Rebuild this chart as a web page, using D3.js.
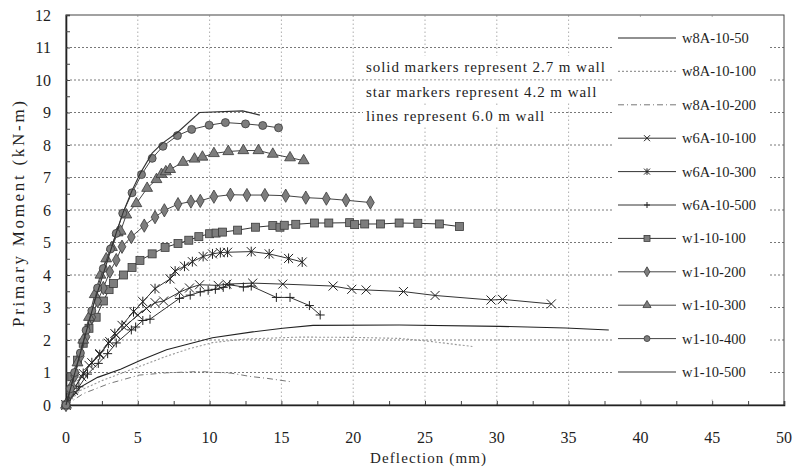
<!DOCTYPE html>
<html>
<head>
<meta charset="utf-8">
<script src="https://cdn.jsdelivr.net/npm/d3@7"></script>
<style>
  body { margin: 0; background: #fff; }
  text { font-family: "Liberation Serif", "DejaVu Serif", serif; fill: #1e1e1e; }
</style>
</head>
<body>
<script>
const w = 794;
const h = 468;

// tick labels
const xTicks = [0, 5, 10, 15, 20, 25, 30, 35, 40, 45, 50];
const yTicks = [0, 1, 2, 3, 4, 5, 6, 7, 8, 9, 10, 11, 12];

// series: [deflection mm, moment kN-m]
const w8A_10_50 = [[0,0],[1,0.55],[2.2,0.85],[3.8,1.1],[5.2,1.38],[7,1.7],[10.2,2.07],[13,2.25],[15.1,2.36],[17.2,2.45],[23.2,2.46],[30.2,2.42],[34.8,2.37],[37.8,2.31]];
const w8A_10_100 = [[0,0],[1,0.45],[2.5,0.75],[4,1.0],[5.5,1.25],[7,1.5],[8.5,1.72],[10.2,1.92],[12.5,2.03],[16.3,2.09],[20,2.08],[23.2,2.05],[25.5,1.95],[28.3,1.8]];
const w8A_10_200 = [[0,0],[1.2,0.35],[3,0.66],[5.1,0.92],[7,0.99],[9.3,1.03],[11.5,0.98],[12.8,0.88],[14,0.82],[15.6,0.72]];
const w6A_10_100 = [[0,0],[0.5,0.45],[1.1,0.87],[1.6,1.22],[2.35,1.58],[3.05,1.95],[3.5,2.15],[4.2,2.45],[5.0,2.77],[5.6,2.97],[6.2,3.15],[6.8,3.2],[7.9,3.47],[8.6,3.6],[9.3,3.7],[10.6,3.68],[11.2,3.72],[13.0,3.75],[15.1,3.72],[18.6,3.66],[19.9,3.56],[20.9,3.54],[23.5,3.49],[25.7,3.37],[29.6,3.23],[30.4,3.25],[33.8,3.11]];
const w6A_10_300 = [[0,0],[0.5,0.46],[1.2,0.97],[1.8,1.3],[2.35,1.55],[2.95,1.9],[3.4,2.2],[3.9,2.45],[4.7,2.87],[5.35,3.18],[6.2,3.58],[7.25,3.88],[7.6,4.12],[8.25,4.27],[8.8,4.41],[9.55,4.57],[10.2,4.65],[10.75,4.69],[11.25,4.7],[12.9,4.72],[14.15,4.65],[15.5,4.51],[16.45,4.4]];
const w6A_10_500 = [[0,0],[0.9,0.56],[1.5,0.95],[2.25,1.28],[2.9,1.58],[3.5,1.91],[4.55,2.31],[4.85,2.4],[5.35,2.6],[5.85,2.64],[7.9,3.28],[8.65,3.38],[9.35,3.48],[9.9,3.53],[10.4,3.56],[10.95,3.62],[11.4,3.7],[12.35,3.63],[12.9,3.66],[14.65,3.31],[15.6,3.31],[16.95,3.06],[17.7,2.77]];
const w1_10_100 = [[0,0],[0.4,0.87],[0.8,1.38],[1.2,1.9],[1.6,2.36],[2.1,2.7],[2.6,3.2],[3.0,3.55],[3.3,3.74],[4.0,4.0],[4.6,4.23],[5.15,4.45],[6.0,4.65],[6.9,4.85],[7.8,4.97],[8.55,5.07],[9.25,5.18],[10.0,5.27],[10.45,5.29],[10.9,5.32],[11.95,5.38],[13.2,5.47],[14.4,5.52],[14.9,5.47],[15.2,5.53],[16.0,5.56],[17.3,5.6],[18.3,5.6],[19.75,5.61],[20.1,5.55],[20.8,5.57],[21.9,5.57],[23.2,5.6],[24.5,5.59],[26.0,5.57],[27.4,5.49]];
const w1_10_200 = [[0,0],[0.3,0.4],[0.6,0.9],[1.0,1.5],[1.4,2.1],[1.8,2.7],[2.2,3.2],[2.6,3.6],[3.05,4.1],[3.5,4.46],[3.9,4.87],[4.55,5.17],[5.45,5.52],[6.2,5.78],[6.85,5.99],[7.8,6.18],[8.7,6.26],[9.35,6.28],[10.3,6.41],[11.45,6.47],[12.6,6.46],[13.85,6.46],[15.3,6.44],[16.7,6.38],[18.13,6.35],[19.5,6.3],[21.2,6.23]];
const w1_10_300 = [[0,0],[0.4,0.6],[0.8,1.3],[1.2,2.0],[1.6,2.7],[2.0,3.4],[2.4,4.0],[2.8,4.5],[3.2,4.85],[3.6,5.3],[3.8,5.35],[4.2,5.85],[4.9,6.2],[5.65,6.67],[6.3,6.94],[6.65,7.1],[6.95,7.18],[7.25,7.25],[8.15,7.47],[8.95,7.57],[9.5,7.63],[10.3,7.74],[11.3,7.8],[12.35,7.83],[13.4,7.83],[14.4,7.72],[15.6,7.61],[16.55,7.52]];
const w1_10_400 = [[0,0],[0.3,0.5],[0.6,1.0],[1.0,1.6],[1.4,2.3],[1.8,2.9],[2.2,3.6],[2.6,4.2],[3.1,4.8],[3.5,5.28],[3.95,5.9],[4.6,6.53],[5.26,7.09],[6.0,7.59],[6.75,7.96],[7.76,8.29],[8.75,8.48],[9.97,8.61],[11.1,8.69],[12.5,8.65],[13.7,8.6],[14.8,8.53]];
const w1_10_500 = [[0,0],[0.5,0.8],[1,1.6],[1.5,2.4],[2,3.2],[2.5,3.9],[3,4.6],[3.5,5.3],[4,5.95],[4.6,6.6],[5.2,7.15],[6,7.75],[6.7,8.05],[7.8,8.4],[9.3,9.0],[12.3,9.05],[13.5,8.92]];

const seriesNames = ["w8A-10-50","w8A-10-100","w8A-10-200","w6A-10-100","w6A-10-300","w6A-10-500","w1-10-100","w1-10-200","w1-10-300","w1-10-400","w1-10-500"];
const seriesData = [w8A_10_50,w8A_10_100,w8A_10_200,w6A_10_100,w6A_10_300,w6A_10_500,w1_10_100,w1_10_200,w1_10_300,w1_10_400,w1_10_500];

const notes = ["solid markers represent 2.7 m wall", "star markers represent 4.2 m wall", "lines represent 6.0 m wall"];

// style per series
const styles = [
  {stroke: "#222", dash: null, width: 1.1, marker: null},
  {stroke: "#999", dash: "2,2", width: 1.1, marker: null},
  {stroke: "#777", dash: "6,3,1,3", width: 1, marker: null},
  {stroke: "#333", dash: null, width: 1, marker: "x"},
  {stroke: "#333", dash: null, width: 1, marker: "star"},
  {stroke: "#333", dash: null, width: 1, marker: "plus"},
  {stroke: "#333", dash: null, width: 1, marker: "square"},
  {stroke: "#444", dash: null, width: 1, marker: "diamond"},
  {stroke: "#444", dash: null, width: 1, marker: "triangle"},
  {stroke: "#444", dash: null, width: 1, marker: "circle"},
  {stroke: "#333", dash: null, width: 1.1, marker: null}
];

const svg = d3.select("body").append("svg")
  .attr("width", w).attr("height", h);

const x = d3.scaleLinear().domain([0, 50]).range([66, 784]);
const y = d3.scaleLinear().domain([0, 12]).range([405, 15]);

// grid
svg.append("g").selectAll("line")
  .data(yTicks.filter(d => d > 0 && d < 12))
  .enter().append("line")
  .attr("x1", x(0)).attr("x2", x(50))
  .attr("y1", d => y(d)).attr("y2", d => y(d))
  .attr("stroke", "#555").attr("stroke-width", 0.8).attr("stroke-dasharray", "2,2");

svg.append("g").selectAll("line")
  .data(xTicks.filter(d => d > 0 && d < 50))
  .enter().append("line")
  .attr("x1", d => x(d)).attr("x2", d => x(d))
  .attr("y1", y(0)).attr("y2", y(12))
  .attr("stroke", "#999").attr("stroke-width", 0.8).attr("stroke-dasharray", "1.5,2.5");

// frame
svg.append("rect")
  .attr("x", x(0)).attr("y", y(12))
  .attr("width", x(50) - x(0)).attr("height", y(0) - y(12))
  .attr("fill", "none").attr("stroke", "#444").attr("stroke-width", 1);

// axes
const xAxis = svg.append("g").attr("transform", `translate(0,${y(0)})`)
  .call(d3.axisBottom(x).tickValues(d3.range(0, 50.1, 2.5)).tickSize(-4).tickFormat(""));
const yAxis = svg.append("g").attr("transform", `translate(${x(0)},0)`)
  .call(d3.axisLeft(y).tickValues(d3.range(0, 12.01, 0.5)).tickSize(-4).tickFormat(""));
[xAxis, yAxis].forEach(g => {
  g.select(".domain").attr("stroke", "#222").attr("stroke-width", 1.6);
  g.selectAll(".tick line").attr("stroke", "#444");
});

svg.append("g").selectAll("text")
  .data(xTicks).enter().append("text")
  .attr("x", d => x(d)).attr("y", 443)
  .attr("text-anchor", "middle").attr("font-size", 16)
  .text(d => d);

svg.append("g").selectAll("text")
  .data(yTicks).enter().append("text")
  .attr("x", 51).attr("y", d => y(d) + 5.5)
  .attr("text-anchor", "end").attr("font-size", 16)
  .text(d => d);

svg.append("text")
  .attr("x", 428).attr("y", 463)
  .attr("text-anchor", "middle").attr("font-size", 15)
  .attr("textLength", 116).attr("lengthAdjust", "spacing")
  .text("Deflection (mm)");

svg.append("text")
  .attr("transform", "translate(24,214) rotate(-90)")
  .attr("text-anchor", "middle").attr("font-size", 17)
  .attr("textLength", 226).attr("lengthAdjust", "spacing")
  .text("Primary Moment (kN-m)");

// markers
function drawMarker(g, type, cx, cy, s) {
  const fill = "#7d7d7d", edge = "#3a3a3a";
  if (type === "square") {
    g.append("rect").attr("x", cx - s / 2).attr("y", cy - s / 2).attr("width", s).attr("height", s)
      .attr("fill", fill).attr("stroke", edge).attr("stroke-width", 0.8);
  } else if (type === "circle") {
    g.append("circle").attr("cx", cx).attr("cy", cy).attr("r", s / 2)
      .attr("fill", fill).attr("stroke", edge).attr("stroke-width", 0.8);
  } else if (type === "diamond" || type === "triangle") {
    const sym = type === "diamond" ? d3.symbolDiamond : d3.symbolTriangle;
    g.append("path").attr("d", d3.symbol().type(sym).size(s * s * 0.8)())
      .attr("transform", `translate(${cx},${cy})`)
      .attr("fill", fill).attr("stroke", edge).attr("stroke-width", 0.8);
  } else if (type === "x" || type === "star" || type === "plus") {
    const r = s / 2;
    let segs = [];
    if (type === "x" || type === "star") segs.push([-r, -r, r, r], [-r, r, r, -r]);
    if (type === "plus") segs.push([-r, 0, r, 0], [0, -r, 0, r]);
    if (type === "star") segs.push([0, -r * 1.1, 0, r * 1.1]);
    segs.forEach(s4 => g.append("line")
      .attr("x1", cx + s4[0]).attr("y1", cy + s4[1]).attr("x2", cx + s4[2]).attr("y2", cy + s4[3])
      .attr("stroke", "#222").attr("stroke-width", 1));
  }
}

const line = d3.line().x(d => x(d[0])).y(d => y(d[1]));

seriesData.forEach((data, i) => {
  const st = styles[i];
  const g = svg.append("g");
  g.append("path").datum(data)
    .attr("d", line)
    .attr("fill", "none").attr("stroke", st.stroke)
    .attr("stroke-width", st.width)
    .attr("stroke-dasharray", st.dash);
  if (st.marker) {
    const size = st.marker === "x" || st.marker === "star" || st.marker === "plus" ? 9 : 8;
    data.forEach(d => drawMarker(g, st.marker, x(d[0]), y(d[1]), size));
  }
});

// notes
const noteG = svg.append("g");
notes.forEach((t, i) => {
  const txt = noteG.append("text")
    .attr("x", 366).attr("y", 72 + i * 24.5)
    .attr("font-size", 15).attr("letter-spacing", 0.95).text(t);
  const bb = txt.node().getBBox();
  noteG.insert("rect", "text")
    .attr("x", bb.x - 3).attr("y", bb.y - 3)
    .attr("width", bb.width + 6).attr("height", bb.height + 6)
    .attr("fill", "#fff");
});

// legend
const lg = svg.append("g");
lg.append("rect").attr("x", 612).attr("y", 18).attr("width", 156).attr("height", 380).attr("fill", "#fff");
seriesNames.forEach((name, i) => {
  const st = styles[i];
  const ly = 38 + i * 33.4;
  lg.append("line")
    .attr("x1", 618).attr("x2", 676).attr("y1", ly).attr("y2", ly)
    .attr("stroke", st.stroke).attr("stroke-width", st.width)
    .attr("stroke-dasharray", st.dash);
  if (st.marker) drawMarker(lg, st.marker, 647, ly, 6);
  lg.append("text")
    .attr("x", 682).attr("y", ly + 5)
    .attr("font-size", 14.5).text(name);
});
</script>
</body>
</html>
